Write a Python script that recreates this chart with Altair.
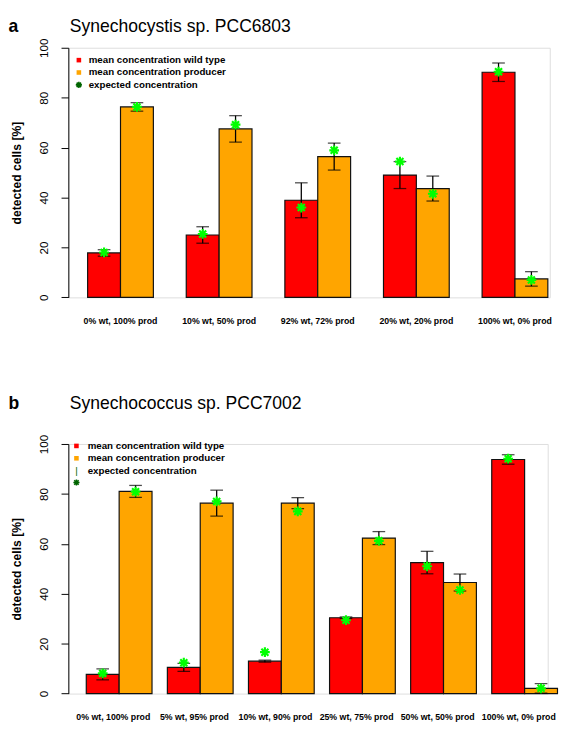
import altair as alt
import pandas as pd

FONT = "Liberation Sans"
SERIES = ["wild type", "producer"]
BAR_COLORS = ["#FF0000", "#FFA500"]
STAR = "M-1,0L1,0M0,-1L0,1M-0.72,-0.72L0.72,0.72M-0.72,0.72L0.72,-0.72"

# ---------------- panel a data ----------------
letter_a = ["a"]
title_a = ["Synechocystis sp. PCC6803"]
groups_a = ["0% wt, 100% prod", "10% wt, 50% prod", "92% wt, 72% prod",
            "20% wt, 20% prod", "100% wt, 0% prod"]
wt_mean_a = [17.8, 25.0, 38.9, 49.0, 90.2]
wt_sd_a = [1.3, 3.3, 7.0, 5.4, 3.7]
prod_mean_a = [76.3, 67.5, 56.4, 43.6, 7.4]
prod_sd_a = [1.7, 5.3, 5.4, 5.0, 2.9]
wt_exp_a = [18.0, 25.4, 36.0, 54.4, 90.4]
prod_exp_a = [76.3, 69.2, 58.9, 41.5, 7.0]

# ---------------- panel b data ----------------
letter_b = ["b"]
title_b = ["Synechococcus sp. PCC7002"]
groups_b = ["0% wt, 100% prod", "5% wt, 95% prod", "10% wt, 90% prod",
            "25% wt, 75% prod", "50% wt, 50% prod", "100% wt, 0% prod"]
wt_mean_b = [7.7, 10.5, 13.0, 30.4, 52.5, 93.8]
wt_sd_b = [2.2, 1.6, 0.4, 0.3, 4.5, 1.9]
prod_mean_b = [81.0, 76.3, 76.3, 62.3, 44.5, 2.1]
prod_sd_b = [2.4, 5.2, 2.2, 2.6, 3.4, 1.9]
wt_exp_b = [8.1, 12.4, 16.6, 29.4, 51.0, 94.1]
prod_exp_b = [80.9, 77.0, 73.0, 61.2, 41.5, 2.1]

legend_labels = ["mean concentration wild type", "mean concentration producer",
                 "expected concentration"]
y_ticks = [0, 20, 40, 60, 80, 100]
y_title = "detected cells [%]"


def build_df(groups, wm, ws, pm, ps, we, pe):
    rows = []
    for i, g in enumerate(groups):
        for s, m, sd, e in ((SERIES[0], wm[i], ws[i], we[i]), (SERIES[1], pm[i], ps[i], pe[i])):
            rows.append({"group": g, "series": s, "mean": m, "lo": m - sd, "hi": m + sd, "exp": e})
    return pd.DataFrame(rows)


def text_layer(txt, x, y, size, weight="normal", color="black", align="left", baseline="middle"):
    return alt.Chart(pd.DataFrame({"t": [txt]})).mark_text(
        font=FONT, fontSize=size, fontWeight=weight, color=color, align=align, baseline=baseline
    ).encode(text="t:N", x=alt.value(x), y=alt.value(y))


def panel(letter, title, groups, df, width, pad_outer, align, title_y, leg_x, leg_tx, leg_y, quirk):
    H = 256.4
    xs = alt.X("group:N", sort=groups,
               scale=alt.Scale(domain=groups, paddingInner=1 / 3, paddingOuter=pad_outer, align=align),
               axis=alt.Axis(title=None, labelAngle=0, ticks=False, domain=False, labelPadding=20,
                             labelFontSize=9, labelFontWeight="bold", labelFont=FONT,
                             labelColor="black", labelBaseline="top"))
    xo = alt.XOffset("series:N", sort=SERIES,
                     scale=alt.Scale(domain=SERIES, paddingInner=0, paddingOuter=0))
    yaxis = alt.Axis(values=y_ticks, title=y_title, grid=False, tickSize=7.5, tickColor="black",
                     domainColor="black", tickWidth=1, domainWidth=1,
                     labelAngle=270, labelAlign="center", labelBaseline="middle", labelPadding=18,
                     labelFontSize=12, labelFont=FONT, labelColor="black",
                     titleX=-53.5, titleY=H / 2, titleAngle=270, titleAlign="center",
                     titleBaseline="middle", titleFontSize=12.5, titleFontWeight="bold",
                     titleFont=FONT, titleColor="black")
    yscale = alt.Scale(domain=[0, 100], nice=False, zero=True)

    base = alt.Chart(df)
    bars = base.mark_bar(stroke="#111111", strokeWidth=1.2).encode(
        x=xs, xOffset=xo,
        y=alt.Y("mean:Q", scale=yscale, axis=yaxis),
        color=alt.Color("series:N", scale=alt.Scale(domain=SERIES, range=BAR_COLORS), legend=None),
    )
    err = base.mark_rule(color="black", strokeWidth=1.3).encode(
        x=xs, xOffset=xo, y=alt.Y("lo:Q", scale=yscale, axis=yaxis), y2="hi:Q")
    cap_lo = base.mark_tick(color="black", size=13, thickness=1.3).encode(
        x=xs, xOffset=xo, y=alt.Y("lo:Q", scale=yscale, axis=yaxis))
    cap_hi = base.mark_tick(color="black", size=13, thickness=1.3).encode(
        x=xs, xOffset=xo, y=alt.Y("hi:Q", scale=yscale, axis=yaxis))
    stars = base.mark_point(shape=STAR, size=100, filled=False, strokeWidth=2.2,
                            color="#00FF00", opacity=1).encode(
        x=xs, xOffset=xo, y=alt.Y("exp:Q", scale=yscale, axis=yaxis))

    layers = [bars, err, cap_lo, cap_hi, stars]

    # letter and title
    layers.append(text_layer(letter, -61.5, title_y, 18, weight="bold", baseline="top"))
    layers.append(text_layer(title, 1.5, title_y, 18, baseline="top"))

    # legend
    dy = 12.7
    sq = pd.DataFrame({"k": [0]})
    for i, col in enumerate(BAR_COLORS):
        layers.append(alt.Chart(sq).mark_square(size=22, color=col, opacity=1).encode(
            x=alt.value(leg_x), y=alt.value(leg_y + i * dy)))
    for i, lab in enumerate(legend_labels):
        layers.append(text_layer(lab, leg_tx, leg_y + i * dy, 10, weight="bold"))
    if quirk:
        layers.append(text_layer("|", leg_x, leg_y + 2 * dy, 10, color="#006400", align="center"))
        layers.append(alt.Chart(sq).mark_point(shape=STAR, size=40, filled=False, strokeWidth=1.6,
                                               color="#006400", opacity=1).encode(
            x=alt.value(leg_x), y=alt.value(leg_y + 3 * dy - 0.5)))
    else:
        layers.append(alt.Chart(sq).mark_point(shape=STAR, size=40, filled=False, strokeWidth=1.6,
                                               color="#006400", opacity=1).encode(
            x=alt.value(leg_x), y=alt.value(leg_y + 2 * dy)))

    return alt.layer(*layers).properties(width=width, height=H)


df_a = build_df(groups_a, wt_mean_a, wt_sd_a, prod_mean_a, prod_sd_a, wt_exp_a, prod_exp_a)
df_b = build_df(groups_b, wt_mean_b, wt_sd_b, prod_mean_b, prod_sd_b, wt_exp_b, prod_exp_b)

chart_a = panel(letter_a[0], title_a[0], groups_a, df_a, 494.5, 0.1074, 0.91, -30.3,
                10.8, 20.9, 12.7, False)
chart_b = panel(letter_b[0], title_b[0], groups_b, df_b, 492.4, 0.1222, 0.904, -49.6,
                8.3, 19.8, 2.0, True)

chart = alt.vconcat(chart_a, chart_b, spacing=70).properties(padding=0).configure_view(
    stroke=None).configure(font=FONT)

chart.save("out.html", embed_options={"renderer": "svg", "actions": False})
